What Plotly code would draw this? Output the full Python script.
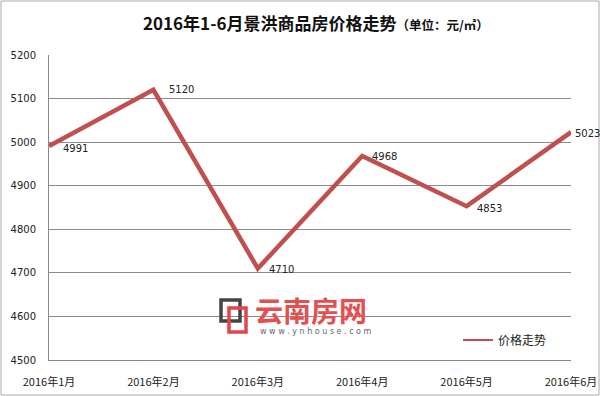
import plotly.graph_objects as go

months = ["2016年1月", "2016年2月", "2016年3月", "2016年4月", "2016年5月", "2016年6月"]
prices = [4991, 5120, 4710, 4968, 4853, 5023]
y_ticks = [4500, 4600, 4700, 4800, 4900, 5000, 5100, 5200]
series_name = "价格走势"
title_main = "2016年1-6月景洪商品房价格走势"
title_unit = "（单位：元/㎡）"

# label offsets (pixels) – style only
label_dx = [12, 14, 9, 8, 8, 2]
label_dy = [-2, 0, -1, 0, -2, -1]

W, H = 600, 396
L, R, T, B = 49, 29, 55, 36
PW, PH = W - L - R, H - T - B

def px(xp):
    return (xp - L) / PW

def py(yp):
    return (H - B - yp) / PH

LINE_COLOR = "#C0504D"

fig = go.Figure()
fig.add_trace(go.Scatter(
    x=list(range(len(months))), y=prices, mode="lines",
    name=series_name, showlegend=False,
    line=dict(color=LINE_COLOR, width=4.5),
))
# legend entry (thin line as in the reference legend)
fig.add_trace(go.Scatter(
    x=[None], y=[None], mode="lines", name=series_name,
    line=dict(color=LINE_COLOR, width=2), showlegend=True,
))

for i, v in enumerate(prices):
    fig.add_annotation(x=i, y=v, xref="x", yref="y", text=str(v), showarrow=False,
                       xanchor="left", yanchor="middle",
                       xshift=label_dx[i], yshift=label_dy[i],
                       font=dict(family="DejaVu Sans", size=10, color="#222222"))

fig.update_layout(
    width=W, height=H,
    margin=dict(l=L, r=R, t=T, b=B, autoexpand=False),
    paper_bgcolor="white", plot_bgcolor="white",
    showlegend=True,
    legend=dict(x=px(458), y=py(340), xanchor="left", yanchor="middle",
                font=dict(family="Noto Sans CJK SC", size=12, color="#222222"),
                bgcolor="rgba(0,0,0,0)", itemwidth=30),
    xaxis=dict(range=[0, len(months) - 1], tickmode="array", automargin=False,
               tickvals=list(range(len(months))), ticktext=months,
               showgrid=False, zeroline=False, showline=True,
               linecolor="#888888", linewidth=1, ticks="", ticklabelstandoff=12,
               tickfont=dict(family="Noto Sans CJK SC", size=11, color="#222222")),
    yaxis=dict(range=[4500, 5200], tickmode="array", tickvals=y_ticks, automargin=False,
               showgrid=True, gridcolor="#8c8c8c", gridwidth=1,
               zeroline=False, showline=True, linecolor="#888888", linewidth=1,
               ticks="", ticklabelstandoff=10,
               tickfont=dict(family="DejaVu Sans", size=10, color="#222222")),
)

# title
fig.add_annotation(xref="paper", yref="paper", x=px(316), y=py(22),
                   xanchor="center", yanchor="middle", showarrow=False,
                   text=f"<b>{title_main}</b><span style='font-size:12.5px'><b>{title_unit}</b></span>",
                   font=dict(family="Noto Sans CJK SC", size=17, color="#111111"))

# watermark
fig.add_shape(type="rect", xref="paper", yref="paper",
              x0=px(221), x1=px(240), y0=py(300), y1=py(321),
              line=dict(color="#444444", width=3.5))
fig.add_shape(type="rect", xref="paper", yref="paper",
              x0=px(229), x1=px(246), y0=py(308), y1=py(332),
              line=dict(color="#E04848", width=3.5))
fig.add_annotation(xref="paper", yref="paper", x=px(253), y=py(310),
                   xanchor="left", yanchor="middle", showarrow=False,
                   text="<b>云南房网</b>",
                   font=dict(family="Noto Sans CJK SC", size=28, color="#E45050"))
fig.add_annotation(xref="paper", yref="paper", x=px(258), y=py(331),
                   xanchor="left", yanchor="middle", showarrow=False,
                   text="w w w . y n h o u s e . c o m",
                   font=dict(family="DejaVu Sans", size=8, color="#666666"))

# outer border
fig.add_shape(type="rect", xref="paper", yref="paper",
              x0=px(1), x1=px(599), y0=py(395), y1=py(1),
              line=dict(color="#aaaaaa", width=1))

fig.write_html("out.html",
               config={"displayModeBar": False},
               post_script="document.body.style.margin='0';document.body.style.overflow='hidden';")
